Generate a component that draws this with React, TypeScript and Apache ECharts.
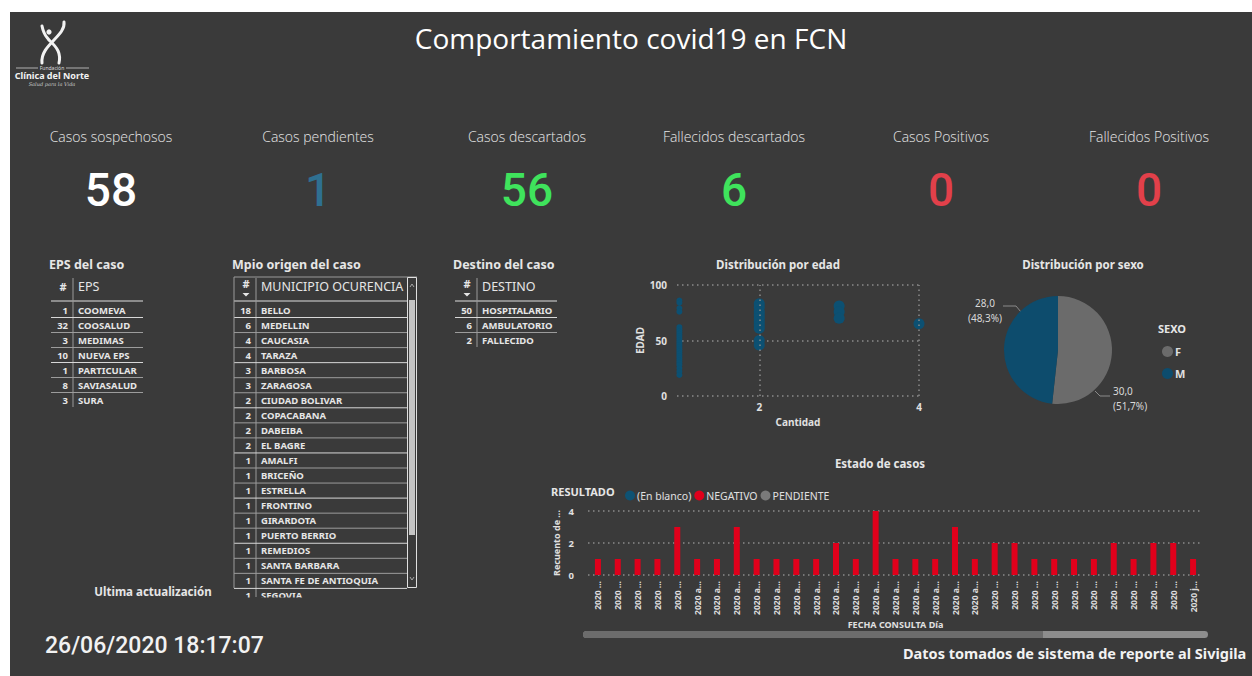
import React, { useEffect, useRef } from "react";
import * as echarts from "echarts";

// ---------- data ----------
const dashboardTitle = "Comportamiento covid19 en FCN";
const kpiTitles = ["Casos sospechosos", "Casos pendientes", "Casos descartados", "Fallecidos descartados", "Casos Positivos", "Fallecidos Positivos"];
const kpiValues = [58, 1, 56, 6, 0, 0];

const epsNames = ["COOMEVA", "COOSALUD", "MEDIMAS", "NUEVA EPS", "PARTICULAR", "SAVIASALUD", "SURA"];
const epsCounts = [1, 32, 3, 10, 1, 8, 3];

const mpioNames = ["BELLO", "MEDELLIN", "CAUCASIA", "TARAZA", "BARBOSA", "ZARAGOSA", "CIUDAD BOLIVAR", "COPACABANA", "DABEIBA", "EL BAGRE", "AMALFI", "BRICEÑO", "ESTRELLA", "FRONTINO", "GIRARDOTA", "PUERTO BERRIO", "REMEDIOS", "SANTA BARBARA", "SANTA FE DE ANTIOQUIA", "SEGOVIA"];
const mpioCounts = [18, 6, 4, 4, 3, 3, 2, 2, 2, 2, 1, 1, 1, 1, 1, 1, 1, 1, 1, 1];

const destinoNames = ["HOSPITALARIO", "AMBULATORIO", "FALLECIDO"];
const destinoCounts = [50, 6, 2];

// edades por cantidad (Distribución por edad)
const edadCantidad1 = [86, 84, 79, 76, 62, 60, 58, 56, 54, 52, 50, 48, 46, 44, 42, 40, 38, 36, 34, 32, 30, 28, 25, 22, 19];
const edadCantidad2 = [83, 80, 76, 73, 70, 67, 64, 61, 50, 46];
const edadCantidad3 = [81, 76, 70];
const edadCantidad4 = [65];

const sexoNames = ["F", "M"];
const sexoValues = [30, 28];

const resultadoNames = ["(En blanco)", "NEGATIVO", "PENDIENTE"];
const fechaLabels = [
  "2020 ...", "2020 ...", "2020 ...", "2020 ...", "2020 ...",
  "2020 a...", "2020 a...", "2020 a...", "2020 a...", "2020 a...",
  "2020 a...", "2020 a...", "2020 a...", "2020 a...", "2020 a...",
  "2020 a...", "2020 a...", "2020 a...", "2020 a...", "2020 a...",
  "2020 ...", "2020 ...", "2020 ...", "2020 ...", "2020 ...",
  "2020 ...", "2020 ...", "2020 ...", "2020 ...", "2020 ...",
  "2020 j...",
];
const negativoValues = [1, 1, 1, 1, 3, 1, 1, 3, 1, 1, 1, 1, 2, 1, 4, 1, 1, 1, 3, 1, 2, 2, 1, 1, 1, 1, 2, 1, 2, 2, 1];

const ultimaActualizacion = "26/06/2020 18:17:07";
const fuente = "Datos tomados de sistema de reporte al Sivigila";

// ---------- styles ----------
const BG = "#3a3a3a";
const FONT = "'Noto Sans', 'DejaVu Sans', sans-serif";
const TXT = "#e6e6e6";
const kpiColors = ["#ffffff", "#2f7091", "#3fe35c", "#3fe35c", "#e2404a", "#e2404a"];
const kpiX = [111, 318, 527, 734, 941, 1149];
const sexoColors = ["#6b6b6b", "#0d4c6d"];
const resultadoColors = ["#0e5273", "#e0001b", "#7a7a7a"];

function txt(text: string, x: number, y: number, size: number, o: any = {}) {
  return {
    type: "text",
    x,
    y,
    z: 10,
    silent: true,
    style: {
      text,
      fill: o.fill || TXT,
      fontSize: size,
      fontWeight: o.weight || "normal",
      fontFamily: o.family || FONT,
      fontStyle: o.style || "normal",
      align: o.align || "left",
      verticalAlign: "middle",
    },
  };
}
function ln(x1: number, y1: number, x2: number, y2: number, stroke: string, w = 1) {
  return { type: "line", z: 9, silent: true, shape: { x1, y1, x2, y2 }, style: { stroke, lineWidth: w } };
}
function sortArrow(x: number, y: number) {
  return { type: "polygon", z: 10, silent: true, shape: { points: [[x - 3.5, y], [x + 3.5, y], [x, y + 3.5]] }, style: { fill: "#e6e6e6" } };
}

function buildTable(
  titleText: string, headerText: string, names: string[], counts: number[],
  o: { left: number; right: number; div: number; titleX: number; rowH: number; arrow: boolean }
) {
  const els: any[] = [];
  els.push(txt(titleText, o.titleX, 264, 12.5, { weight: "bold" }));
  const hashX = (o.left + o.div) / 2 + 1;
  els.push(txt("#", hashX, o.arrow ? 283 : 286, 11, { align: "center", weight: "bold" }));
  if (o.arrow) els.push(sortArrow(hashX, 293));
  els.push(txt(headerText, o.div + 5, 286, 12.5));
  els.push(ln(o.left, 301, o.right, 301, "#8c8c8c", 2));
  const bottom = 310 + o.rowH * (names.length - 1) + 7;
  els.push(ln(o.div, 278, o.div, Math.min(bottom, 597), "#9a9a9a", 1));
  names.forEach((n, i) => {
    const y = 310 + o.rowH * i;
    els.push(txt(String(counts[i]), o.div - 5, y, 9.5, { align: "right", weight: "bold" }));
    els.push(txt(n, o.div + 5, y, 9.5, { weight: "bold" }));
    if (i < names.length - 1) els.push(ln(o.left, y + 7.5, o.right, y + 7.5, i % 3 === 0 ? "#d8d8d8" : "#9c9c9c", 1));
  });
  return els;
}

function buildGraphics() {
  const g: any[] = [];
  // white page margins
  g.push({ type: "rect", z: 100, silent: true, shape: { x: 0, y: 0, width: 1252, height: 12 }, style: { fill: "#ffffff" } });
  g.push({ type: "rect", z: 100, silent: true, shape: { x: 0, y: 0, width: 10, height: 676 }, style: { fill: "#ffffff" } });

  // logo
  const ls = { stroke: "#f2f2f2", lineWidth: 3, fill: null, lineCap: "round" };
  g.push({ type: "bezierCurve", z: 10, silent: true, shape: { x1: 42, y1: 26, cpx1: 44, cpy1: 36, cpx2: 47, cpy2: 37, x2: 49, y2: 40 }, style: ls });
  g.push({ type: "bezierCurve", z: 10, silent: true, shape: { x1: 64, y1: 22, cpx1: 66, cpy1: 36, cpx2: 40, cpy2: 45, x2: 42, y2: 63 }, style: ls });
  g.push({ type: "bezierCurve", z: 10, silent: true, shape: { x1: 49, y1: 40, cpx1: 58, cpy1: 48, cpx2: 61, cpy2: 54, x2: 59, y2: 63 }, style: ls });
  g.push({ type: "circle", z: 10, silent: true, shape: { cx: 49, cy: 32, r: 2.6 }, style: { fill: "#f2f2f2" } });
  g.push(ln(16, 68, 38, 68, "#cfcfcf", 0.8));
  g.push(ln(66, 68, 89, 68, "#cfcfcf", 0.8));
  g.push(txt("Fundación", 52, 68, 5, { align: "center", fill: "#dcdcdc" }));
  g.push(txt("Clínica del Norte", 52, 75.5, 9, { align: "center", weight: "bold", fill: "#f2f2f2" }));
  g.push(txt("Salud para la Vida", 52, 83.5, 5, { align: "center", style: "italic", family: "'DejaVu Serif', serif", fill: "#cfcfcf" }));

  // title
  g.push(txt(dashboardTitle, 631, 38, 28, { align: "center", family: "'Open Sans', 'Noto Sans', sans-serif", fill: "#ffffff" }));

  // KPIs
  kpiTitles.forEach((t, i) => {
    g.push(txt(t, kpiX[i], 136, 14, { align: "center", family: "'Open Sans', 'Noto Sans', sans-serif", weight: 300, fill: "#e8e8e8" }));
    g.push(txt(String(kpiValues[i]), kpiX[i], 190, 46, { align: "center", family: "Roboto, 'Noto Sans', sans-serif", weight: 500, fill: kpiColors[i] }));
  });

  // tables
  g.push(...buildTable("EPS del caso", "EPS", epsNames, epsCounts, { left: 51, right: 143, div: 73, titleX: 49, rowH: 15, arrow: false }));
  g.push(...buildTable("Mpio origen del caso", "MUNICIPIO OCURENCIA", mpioNames, mpioCounts, { left: 234, right: 407, div: 256, titleX: 232, rowH: 15.05, arrow: true }));
  g.push(...buildTable("Destino del caso", "DESTINO", destinoNames, destinoCounts, { left: 455, right: 557, div: 477, titleX: 453, rowH: 15, arrow: true }));
  // Mpio table frame, clip and scrollbar
  g.push(ln(234, 277, 417, 277, "#9a9a9a", 1));
  g.push(ln(234, 277, 234, 588, "#9a9a9a", 1));
  g.push({ type: "rect", z: 20, silent: true, shape: { x: 228, y: 597.5, width: 192, height: 8 }, style: { fill: BG } });
  g.push({ type: "rect", z: 11, silent: true, shape: { x: 407.5, y: 277.5, width: 9, height: 310 }, style: { fill: BG, stroke: "#e0e0e0", lineWidth: 1 } });
  g.push({ type: "rect", z: 12, silent: true, shape: { x: 409, y: 300, width: 6, height: 235 }, style: { fill: "#c4c4c4" } });
  g.push({ type: "polyline", z: 12, silent: true, shape: { points: [[410, 287], [412, 284], [414, 287]] }, style: { stroke: "#a8a8a8", lineWidth: 1, fill: null } });
  g.push({ type: "polyline", z: 12, silent: true, shape: { points: [[410, 577], [412, 580], [414, 577]] }, style: { stroke: "#a8a8a8", lineWidth: 1, fill: null } });

  // chart titles
  g.push(txt("Distribución por edad", 778, 264, 11.5, { align: "center", weight: "bold" }));
  g.push(txt("Distribución por sexo", 1083, 264, 11.5, { align: "center", weight: "bold" }));
  g.push(txt("SEXO", 1158, 328, 11, { weight: "bold" }));
  g.push(txt("Estado de casos", 880, 463, 11.5, { align: "center", weight: "bold" }));
  g.push(txt("RESULTADO", 551, 491, 11, { weight: "bold" }));

  // bar chart scroll bar
  g.push({ type: "rect", z: 10, silent: true, shape: { x: 583, y: 631, width: 625, height: 7, r: 3.5 }, style: { fill: "#8d8d8d" } });
  g.push({ type: "rect", z: 11, silent: true, shape: { x: 583, y: 631, width: 460, height: 7, r: [3.5, 0, 0, 3.5] }, style: { fill: "#6c6c6c" } });

  // footer texts
  g.push(txt("Ultima actualización", 153, 591, 11.5, { align: "center", weight: "bold" }));
  g.push(txt(ultimaActualizacion, 45, 645, 23, { family: "Roboto, 'Noto Sans', sans-serif", weight: 500, fill: "#f2f2f2" }));
  g.push(txt(fuente, 903, 653, 14.5, { weight: "bold", fill: "#f2f2f2" }));
  return g;
}

function buildOption(): any {
  const scatterData: number[][] = [
    ...edadCantidad1.map((e) => [1, e]),
    ...edadCantidad2.map((e) => [2, e]),
    ...edadCantidad3.map((e) => [3, e]),
    ...edadCantidad4.map((e) => [4, e]),
  ];
  const axisTxt = { color: "#e0e0e0", fontSize: 10, fontWeight: "bold", fontFamily: FONT };
  const dotted = { show: true, lineStyle: { color: "#8a8a8a", type: [1.5, 3.5], width: 1.5 } };
  const fmt = (n: number) => n.toFixed(1).replace(".", ",");
  return {
    animation: false,
    backgroundColor: BG,
    textStyle: { fontFamily: FONT },
    graphic: { elements: buildGraphics() },
    legend: [
      {
        data: resultadoNames, left: 620, top: 485, orient: "horizontal", icon: "circle",
        itemWidth: 10, itemHeight: 10, itemGap: 3, selectedMode: false,
        textStyle: { color: "#e0e0e0", fontSize: 10.5, fontFamily: FONT, padding: [0, 0, 0, -3] },
      },
      {
        data: sexoNames, left: 1157, top: 341, orient: "vertical", icon: "circle",
        itemWidth: 11, itemHeight: 11, itemGap: 11, selectedMode: false,
        textStyle: { color: "#e0e0e0", fontSize: 11, fontWeight: "bold", fontFamily: FONT, padding: [0, 0, 0, -3] },
      },
    ],
    grid: [
      { left: 677, top: 285, width: 242, height: 111 },
      { left: 588, top: 511, width: 615, height: 64 },
    ],
    xAxis: [
      {
        gridIndex: 0, type: "value", min: 0.97, max: 4,
        axisLine: { show: false }, axisTick: { show: false }, splitLine: { show: false },
        axisLabel: { ...axisTxt, customValues: [2, 4], margin: 6 },
        name: "Cantidad", nameLocation: "middle", nameGap: 21, nameTextStyle: axisTxt,
      },
      {
        gridIndex: 1, type: "category", data: fechaLabels,
        axisLine: { show: false }, axisTick: { show: false },
        axisLabel: { color: "#dcdcdc", fontSize: 8.5, fontWeight: "bold", fontFamily: FONT, rotate: 90, interval: 0, margin: 6 },
        name: "FECHA CONSULTA Día", nameLocation: "middle", nameGap: 45, nameTextStyle: { ...axisTxt, fontSize: 9 },
      },
    ],
    yAxis: [
      {
        gridIndex: 0, type: "value", min: 0, max: 100, interval: 50,
        axisLine: { show: false }, axisTick: { show: false }, splitLine: dotted,
        axisLabel: { ...axisTxt, margin: 10 },
        name: "EDAD", nameLocation: "middle", nameGap: 32, nameRotate: 90, nameTextStyle: axisTxt,
      },
      {
        gridIndex: 1, type: "value", min: 0, max: 4, interval: 2,
        axisLine: { show: false }, axisTick: { show: false }, splitLine: dotted,
        axisLabel: { ...axisTxt, fontSize: 9.5, margin: 14 },
        name: "Recuento de ...", nameLocation: "middle", nameGap: 27, nameRotate: 90, nameTextStyle: { ...axisTxt, fontSize: 9 },
      },
    ],
    series: [
      {
        type: "scatter", name: "Edad", xAxisIndex: 0, yAxisIndex: 0, data: scatterData,
        symbolSize: (v: number[]) => (v[0] === 1 ? 6 : 11),
        itemStyle: { color: "#0c5072", opacity: 1 },
        markLine: {
          silent: true, symbol: ["none", "none"], label: { show: false },
          lineStyle: { color: "#8a8a8a", type: [1.5, 3.5], width: 1.5 },
          data: [{ xAxis: 2 }, { xAxis: 4 }],
        },
      },
      {
        type: "pie", name: "SEXO", center: [1058, 350], radius: 54, startAngle: 90, clockwise: true,
        data: sexoNames.map((n, i) => ({ name: n, value: sexoValues[i], itemStyle: { color: sexoColors[i] } })),
        label: {
          show: true, position: "outside", color: "#d8d8d8", fontSize: 10, lineHeight: 15, fontFamily: FONT,
          formatter: (p: any) => `${fmt(p.value)}\n(${fmt(p.percent)}%)`,
        },
        labelLine: { show: true, lineStyle: { color: "#8a8a8a", width: 1 } },
        labelLayout: (p: any) =>
          p.dataIndex === 1
            ? { x: 985, y: 310, align: "center", verticalAlign: "middle", labelLinePoints: [[1021, 312], [1016, 306], [1003, 306]] }
            : { x: 1113, y: 398, align: "left", verticalAlign: "middle", labelLinePoints: [[1095, 391], [1100, 396], [1110, 396]] },
      },
      ...resultadoNames.map((n, i) => ({
        type: "bar", name: n, xAxisIndex: 1, yAxisIndex: 1, stack: "resultado", barWidth: 6,
        itemStyle: { color: resultadoColors[i] },
        data: n === "NEGATIVO" ? negativoValues : [],
      })),
    ],
  };
}

export default function App() {
  const ref = useRef<HTMLDivElement>(null);
  useEffect(() => {
    if (!ref.current) return;
    const chart = echarts.init(ref.current, undefined, { renderer: "svg" });
    chart.setOption(buildOption());
    return () => chart.dispose();
  }, []);
  return <div ref={ref} style={{ position: "absolute", left: 0, top: 0, width: 1252, height: 676 }} />;
}
